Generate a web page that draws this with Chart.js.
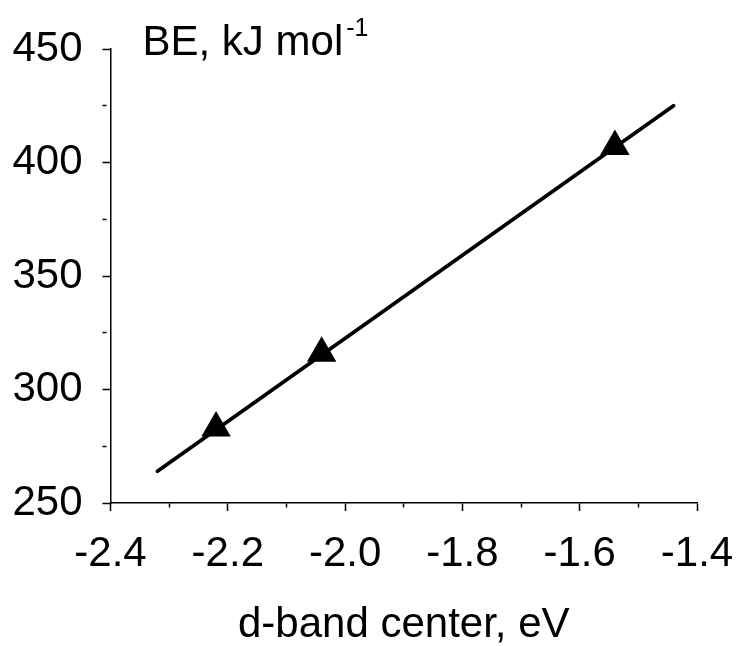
<!DOCTYPE html>
<html>
<head>
<meta charset="utf-8">
<script src="https://cdn.jsdelivr.net/npm/chart.js@4.4.0/dist/chart.umd.min.js"></script>
<style>
  html, body { margin: 0; padding: 0; background: #fff; }
</style>
</head>
<body>
<canvas id="grafico" width="736" height="646"></canvas>
<script>
const bandCenter = [-2.22, -2.04, -1.54];
const bindingEnergy = [283, 316, 407];
const fitX = [-2.32, -1.44];
const fitY = [264, 425];
const xTicks = [-2.4, -2.2, -2.0, -1.8, -1.6, -1.4];
const yTicks = [250, 300, 350, 400, 450];
const yTitle = 'BE, kJ mol';
const ySup = '-1';
const xTitle = 'd-band center, eV';

const fonte = 'Liberation Sans, Arial, sans-serif';
Chart.defaults.font.family = fonte;
Chart.defaults.color = '#000';

// major ticks from the arrays, minor ticks halfway between them
function comMenores(lista) {
    const todos = [];
    lista.forEach((v, i) => {
        todos.push(v);
        if (i < lista.length - 1) todos.push((v + lista[i + 1]) / 2);
    });
    return todos;
}

function ehMaior(lista, v) {
    return lista.some(t => Math.abs(t - v) < 1e-9);
}

const tituloY = {
    id: 'tituloY',
    afterDraw(chart) {
        const ctx = chart.ctx;
        const area = chart.chartArea;
        ctx.save();
        ctx.fillStyle = '#000';
        ctx.textBaseline = 'alphabetic';
        ctx.textAlign = 'left';
        ctx.font = '42px ' + fonte;
        const x0 = area.left + 32;
        const base = area.top + 6;
        ctx.fillText(yTitle, x0, base);
        const w = ctx.measureText(yTitle).width;
        ctx.font = '25px ' + fonte;
        ctx.fillText(ySup, x0 + w + 3, area.top - 13);
        ctx.restore();
    }
};

new Chart(document.getElementById('grafico'), {
    type: 'scatter',
    data: {
        datasets: [{
            label: 'BE',
            data: bandCenter.map((x, i) => ({ x: x, y: bindingEnergy[i] })),
            pointStyle: 'triangle',
            pointRadius: 17,
            pointHoverRadius: 17,
            backgroundColor: '#000',
            borderColor: '#000',
            borderWidth: 0,
            showLine: false
        }, {
            label: 'fit',
            data: fitX.map((x, i) => ({ x: x, y: fitY[i] })),
            showLine: true,
            pointRadius: 0,
            borderColor: '#000',
            borderWidth: 3.8,
            borderCapStyle: 'round'
        }]
    },
    options: {
        responsive: false,
        animation: false,
        layout: { padding: { left: 0, right: 39, top: 49, bottom: 0 } },
        plugins: {
            legend: { display: false },
            tooltip: { enabled: false }
        },
        scales: {
            x: {
                type: 'linear',
                min: -2.4,
                max: -1.4,
                afterBuildTicks: (escala) => {
                    escala.ticks = comMenores(xTicks).map(v => ({ value: v }));
                },
                afterFit: (escala) => {
                    escala.height = 143;
                    escala.paddingLeft = 0;
                    escala.paddingRight = 0;
                },
                ticks: {
                    autoSkip: false,
                    maxRotation: 0,
                    padding: 18,
                    color: '#000',
                    font: { size: 42 },
                    callback: (v) => ehMaior(xTicks, v) ? v.toFixed(1) : ''
                },
                grid: {
                    drawOnChartArea: false,
                    tickLength: 8,
                    tickWidth: 1.5,
                    tickColor: '#000',
                    tickBorderDash: (c) => ehMaior(xTicks, c.tick.value) ? [] : [4, 40]
                },
                border: { display: true, color: '#000', width: 1.5 },
                title: {
                    display: true,
                    text: xTitle,
                    color: '#000',
                    font: { size: 42, lineHeight: 1 },
                    padding: { top: 10, bottom: 0 }
                }
            },
            y: {
                min: 250,
                max: 450,
                afterBuildTicks: (escala) => {
                    escala.ticks = comMenores(yTicks).map(v => ({ value: v }));
                },
                afterFit: (escala) => {
                    escala.width = 110.5;
                    escala.paddingTop = 0;
                    escala.paddingBottom = 0;
                },
                ticks: {
                    autoSkip: false,
                    padding: 20,
                    color: '#000',
                    font: { size: 42 },
                    callback: (v) => ehMaior(yTicks, v) ? String(v) : ''
                },
                grid: {
                    drawOnChartArea: false,
                    tickLength: 8,
                    tickWidth: 1.5,
                    tickColor: '#000',
                    tickBorderDash: (c) => ehMaior(yTicks, c.tick.value) ? [] : [4, 40]
                },
                border: { display: true, color: '#000', width: 1.5 }
            }
        }
    },
    plugins: [tituloY]
});
</script>
</body>
</html>
